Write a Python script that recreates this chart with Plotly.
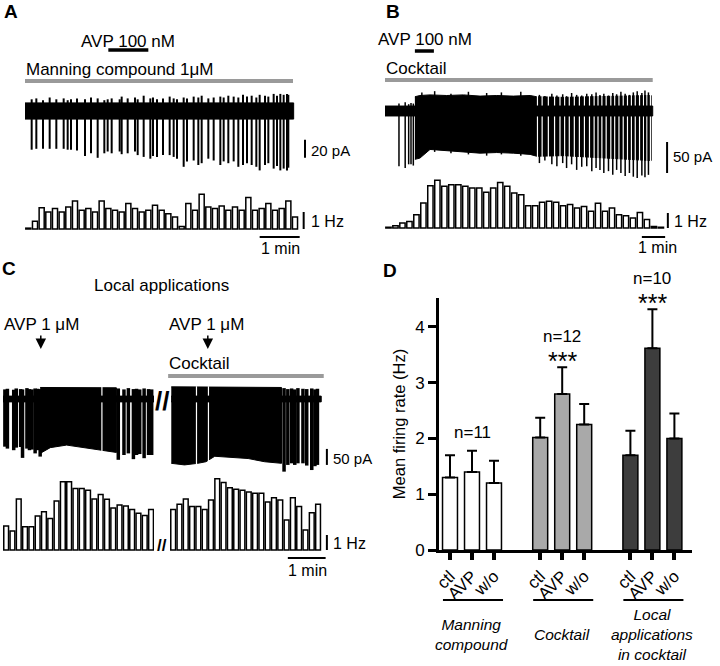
import plotly.graph_objects as go

W, H = 720, 666
FONT = "Liberation Sans, Arial, Helvetica, sans-serif"
GREY = "#9a9a9a"

# ---------------- A: Manning compound 1 uM, AVP 100 nM ----------------
a_manning = [0, 402]          # s, application bar
a_avp = [125, 185]            # s
a_rec_end = 403               # s
a_noise = 9                   # pA, half width of baseline noise band
a_spike_t = [10, 17, 27, 37, 47, 58, 64, 69, 78, 90, 99, 109, 119, 124, 130,
             142, 145, 154, 165, 169, 178, 188, 192, 198, 207, 217, 223, 228,
             238, 243, 253, 260, 265, 275, 283, 293, 298, 305, 313, 320, 327,
             333, 340, 347, 352, 360, 365, 373, 378, 383, 388, 393, 395]
a_spike_down = [-43, -42, -42, -42, -42, -42, -43, -43, -44, -50, -47, -52, -47, -45, -47,
                -45, -48, -47, -45, -49, -51, -53, -50, -51, -49, -49, -51, -53,
                -62, -56, -55, -60, -58, -53, -55, -60, -56, -58, -56, -62, -60,
                -58, -60, -62, -66, -60, -58, -64, -61, -66, -64, -66, -63]
a_spike_up = [13, 14, 12, 15, 13, 14, 12, 13, 14, 13, 15, 14, 12, 13, 14,
              13, 16, 14, 15, 13, 17, 14, 15, 13, 14, 16, 14, 13,
              15, 14, 16, 15, 17, 14, 15, 16, 15, 17, 16, 15, 18,
              16, 17, 15, 18, 17, 16, 19, 17, 19, 18, 19, 18]
a_bin = 10                    # s
a_rate = [0.05, 0.45, 1.25, 1.0, 1.2, 1.0, 1.3, 1.65, 1.1, 1.2, 1.0, 1.65, 1.2, 1.1,
          1.0, 1.5, 1.2, 1.0, 1.1, 1.4, 1.1, 0.9, 0.7, 0.15, 1.5, 1.1, 2.05, 1.3,
          1.2, 1.35, 1.1, 1.3, 1.1, 1.85, 1.1, 1.2, 1.5, 1.1, 1.2, 1.65, 0.7]

# ---------------- B: cocktail, AVP 100 nM ----------------
b_cocktail = [0, 690]
b_avp = [77, 126]
b_rec_end = 690
b_noise = 8
b_burst_t = [77, 90, 116, 159, 202, 245, 288, 331, 374, 391, 460, 546, 631, 686]
b_burst_top = [23, 25, 26, 25, 26, 24, 25, 24, 25, 23, 22, 23, 24, 25]
b_burst_bot = [-78, -76, -62, -64, -66, -68, -67, -68, -70, -73, -72, -75, -78, -80]
b_spike_t = [36, 52, 61, 67, 73, 95, 128, 170, 215, 262, 300, 350, 398, 412, 430,
             443, 458, 468, 481, 494, 507, 520, 533, 544, 554, 564, 576, 587, 597,
             608, 619, 630, 640, 650, 662, 670, 679]
b_spike_down = [-89, -92, -86, -86, -88, -70, -66, -68, -70, -72, -70, -72, -84, -80, -86,
                -89, -84, -92, -86, -95, -90, -89, -97, -92, -95, -100, -97, -103, -95,
                -100, -105, -100, -106, -108, -104, -107, -103]
b_spike_up = [12, 14, 11, 13, 12, 30, 32, 28, 31, 29, 30, 31, 26, 24, 28,
              25, 27, 24, 29, 26, 25, 28, 27, 30, 26, 28, 25, 29, 27,
              31, 28, 26, 30, 32, 29, 33, 30]
b_gaps = [393, 405, 421, 437, 451, 463, 475, 488, 501, 514, 527, 539, 549, 559,
          570, 582, 592, 603, 614, 625, 635, 645, 656, 666, 675, 684]
b_bin = 18
b_rate = [0.05, 0.15, 0.33, 0.44, 0.89, 1.67, 2.82, 3.18, 2.78, 2.89, 2.89, 2.78, 2.67,
          2.67, 2.38, 2.67, 3.04, 2.78, 2.33, 2.22, 1.49, 1.49, 1.71, 1.78, 1.71, 1.49,
          1.56, 1.33, 1.44, 1.11, 1.65, 1.11, 1.33, 0.89, 0.82, 0.67, 1.04, 0.56, 0.1, 0.05]

# ---------------- C: local applications (AVP 1 uM puff) ----------------
c_avp_puff = 60
c_cocktail = [-3, 244]
c_rec_end = 240
c_noise = 9
c1_burst_t = [59, 75, 101, 127, 154, 180]
c1_burst_top = [36, 36, 37, 36, 35, 35]
c1_burst_bot = [-170, -152, -144, -152, -160, -167]
c1_spike_t = [3, 7, 17, 21, 28, 31, 38, 42, 46, 51, 55, 59,
              183, 192, 199, 207, 212, 217, 224, 231, 236]
c1_spike_down = [-149, -155, -160, -152, -150, -184, -155, -160, -158, -170, -160, -180,
                 -190, -175, -170, -188, -175, -172, -185, -175, -175]
c1_spike_up = [30, 32, 29, 33, 31, 30, 34, 31, 30, 33, 32, 31,
               33, 30, 34, 31, 32, 30, 33, 31, 30]
c1_gaps = [157]
c2_burst_t = [2, 23, 44, 57, 71, 97, 124, 150, 177]
c2_burst_top = [38, 38, 37, 37, 38, 37, 38, 37, 36]
c2_burst_bot = [-201, -206, -201, -196, -179, -183, -186, -196, -201]
c2_spike_t = [181, 187, 193, 198, 203, 211, 217, 225, 230, 234]
c2_spike_down = [-227, -206, -201, -206, -201, -201, -208, -222, -210, -206]
c2_spike_up = [34, 31, 33, 30, 34, 32, 31, 33, 30, 32]
c2_gaps = [42, 61]
c_bin = 10
c1_rate = [1.6, 1.27, 3.4, 1.55, 1.55, 2.27, 2.55, 2.1, 3.27, 4.55, 4.55, 4.1,
           4.1, 3.98, 3.4, 3.7, 3.38, 2.8, 3.0, 2.93, 2.7, 2.45, 2.3, 2.7]
c2_rate = [2.7, 3.05, 3.4, 2.9, 2.9, 2.7, 3.33, 4.75, 4.5, 4.15, 4.05, 3.98,
           3.87, 3.78, 3.78, 3.2, 3.49, 3.33, 2.0, 3.49, 2.9, 1.33, 2.49, 3.05]

# ---------------- D: mean firing rate ----------------
d_groups = ["Manning<br>compound", "Cocktail", "Local<br>applications<br>in cocktail"]
d_conditions = ["ctl", "AVP", "w/o"]
d_mean = [[1.3, 1.4, 1.2], [2.02, 2.8, 2.25], [1.7, 3.62, 2.0]]
d_sem = [[0.4, 0.38, 0.4], [0.35, 0.48, 0.37], [0.44, 0.7, 0.45]]
d_n = [11, 12, 10]
d_sig = ["", "***", "***"]
d_colors = ["white", "#a9a9a9", "#3d3d3d"]


def px(x):
    return x / W


def py(y):
    return 1 - y / H


def ax_time(x0, x1, s_per_px, t0=0.0):
    return dict(domain=[px(x0), px(x1)], range=[t0, t0 + (x1 - x0) * s_per_px],
                visible=False, automargin=False)


def ax_val(ytop, ybot, yzero, per_px):
    return dict(domain=[py(ybot), py(ytop)],
                range=[-(ybot - yzero) * per_px, (yzero - ytop) * per_px],
                visible=False, automargin=False)


def seg(xref, yref, x0, y0, x1, y1, color="black", width=2):
    return dict(type="line", xref=xref, yref=yref, x0=x0, y0=y0, x1=x1, y1=y1,
                line=dict(color=color, width=width))


def add_recording(fig, xa, ya, t_start, t_end, noise, sp_t, sp_down, sp_up,
                  burst=None, gaps=(), width=2):
    if burst:
        bt, btop, bbot = burst
        fig.add_trace(go.Scatter(x=bt + bt[::-1], y=btop + bbot[::-1], fill="toself",
                                 fillcolor="black", mode="lines",
                                 line=dict(color="black", width=1), xaxis=xa, yaxis=ya))
    if burst and gaps:
        # short pauses in the burst show as white streaks
        gx, gy = [], []
        for g in gaps:
            gx += [g, g, None]
            gy += [max(burst[1]) + 2, min(burst[2]) - 2, None]
        fig.add_trace(go.Scatter(x=gx, y=gy, mode="lines", line=dict(color="white", width=1.2),
                                 xaxis=xa, yaxis=ya))
    xs, ys = [], []
    for t, d, u in zip(sp_t, sp_down, sp_up):
        xs += [t, t, None]
        ys += [u, d, None]
    fig.add_trace(go.Scatter(x=xs, y=ys, mode="lines", line=dict(color="black", width=width),
                             xaxis=xa, yaxis=ya))
    fig.add_trace(go.Scatter(x=[t_start, t_end, t_end, t_start], y=[-noise, -noise, noise, noise],
                             fill="toself", fillcolor="black", mode="lines",
                             line=dict(color="black", width=1), xaxis=xa, yaxis=ya))


def add_rate(fig, xa, ya, rates, binw):
    centers = [(i + 0.5) * binw for i in range(len(rates))]
    fig.add_trace(go.Bar(x=centers, y=rates, width=binw * 0.76,
                         marker=dict(color="white", line=dict(color="black", width=1.5)),
                         xaxis=xa, yaxis=ya))


fig = go.Figure()

axes = {
    1: (ax_time(25, 350, 1.5), ax_val(86, 178, 111, 1 / 0.9)),
    2: (ax_time(25, 350, 1.5), ax_val(190, 235, 229, 1 / 17)),
    3: (ax_time(385, 720, 1 / 0.388), ax_val(88, 182, 111, 1 / 0.62)),
    4: (ax_time(385, 720, 1 / 0.388), ax_val(170, 235, 228, 1 / 15)),
    5: (ax_time(3, 154, 1 / 0.63), ax_val(380, 478, 399, 1 / 0.32)),
    6: (ax_time(168, 380, 1 / 0.63, -3.2), ax_val(380, 478, 399, 1 / 0.32)),
    7: (ax_time(3, 154, 1 / 0.63), ax_val(470, 556, 550, 1 / 15)),
    8: (ax_time(168, 380, 1 / 0.63, -3.2), ax_val(470, 556, 550, 1 / 15)),
}

add_recording(fig, "x", "y", 0, a_rec_end, a_noise, a_spike_t, a_spike_down, a_spike_up, width=2)
add_rate(fig, "x2", "y2", a_rate, a_bin)
add_recording(fig, "x3", "y3", 0, b_rec_end, b_noise, b_spike_t, b_spike_down, b_spike_up,
              burst=(b_burst_t, b_burst_top, b_burst_bot), gaps=b_gaps, width=1.5)
add_rate(fig, "x4", "y4", b_rate, b_bin)
add_recording(fig, "x5", "y5", 0, c_rec_end, c_noise, c1_spike_t, c1_spike_down, c1_spike_up,
              burst=(c1_burst_t, c1_burst_top, c1_burst_bot), gaps=c1_gaps, width=3.5)
add_recording(fig, "x6", "y6", 2, c_rec_end, c_noise, c2_spike_t, c2_spike_down, c2_spike_up,
              burst=(c2_burst_t, c2_burst_top, c2_burst_bot), gaps=c2_gaps, width=3.5)
add_rate(fig, "x7", "y7", c1_rate, c_bin)
add_rate(fig, "x8", "y8", c2_rate, c_bin)

# panel D bars
GROUP_GAP = 1.1
tickvals, ticktext = [], []
annotations = []
for g in range(3):
    xs = [g * (3 + GROUP_GAP) + c for c in range(3)]
    tickvals += xs
    ticktext += d_conditions
    fig.add_trace(go.Bar(
        x=xs, y=d_mean[g], width=0.68,
        marker=dict(color=d_colors[g], line=dict(color="black", width=1.5)),
        error_y=dict(type="data", array=d_sem[g], arrayminus=[0, 0, 0], symmetric=False,
                     color="black", thickness=2, width=5),
        xaxis="x9", yaxis="y9"))
    top = d_mean[g][1] + d_sem[g][1]
    if d_sig[g]:
        annotations.append(dict(text=d_sig[g], x=xs[1], y=top, xref="x9", yref="y9",
                                yanchor="middle", yshift=6, showarrow=False,
                                font=dict(size=25, family=FONT, color="black")))
    annotations.append(dict(text=f"n={d_n[g]}", x=xs[1], y=top, xref="x9", yref="y9",
                            yanchor="middle", yshift=31 if d_sig[g] else 18, showarrow=False,
                            font=dict(size=17, family=FONT, color="black")))
    annotations.append(dict(text=f"<i>{d_groups[g]}</i>", x=xs[1], y=py(634), xref="x9",
                            yref="paper", yanchor="middle", showarrow=False,
                            font=dict(size=15.5, family=FONT, color="black")))

layout = dict(width=W, height=H, margin=dict(l=0, r=0, t=0, b=0, autoexpand=False),
              showlegend=False, paper_bgcolor="white", plot_bgcolor="rgba(0,0,0,0)",
              bargap=0.1)
for i, (xa, ya) in axes.items():
    sfx = "" if i == 1 else str(i)
    xa["anchor"] = "y" + sfx
    ya["anchor"] = "x" + sfx
    layout["xaxis" + sfx] = xa
    layout["yaxis" + sfx] = ya

layout["xaxis9"] = dict(domain=[px(439), px(692)], range=[-0.5, 11.0], anchor="y9",
                        automargin=False,
                        showline=True, linewidth=2.5, linecolor="black", mirror=False,
                        ticks="outside", ticklen=7, tickwidth=3.5, tickcolor="black",
                        tickvals=tickvals, ticktext=ticktext, tickangle=-45,
                        tickfont=dict(size=17, family=FONT, color="black"),
                        showgrid=False, zeroline=False)
layout["yaxis9"] = dict(domain=[py(550), py(298)], range=[0, 4.52], anchor="x9",
                        automargin=False,
                        showline=True, linewidth=3, linecolor="black",
                        ticks="outside", ticklen=8, tickwidth=3, tickcolor="black",
                        tickvals=[0, 1, 2, 3, 4],
                        tickfont=dict(size=17, family=FONT, color="black"),
                        title=dict(text="Mean firing rate (Hz)", standoff=6,
                                   font=dict(size=16.5, family=FONT, color="black")),
                        showgrid=False, zeroline=False)

shapes = [
    # drug applications
    seg("x", "paper", a_manning[0], py(81), a_manning[1], py(81), GREY, 4),
    seg("x", "paper", a_avp[0], py(50), a_avp[1], py(50), "black", 3.5),
    seg("x3", "paper", b_cocktail[0], py(80), b_cocktail[1], py(80), GREY, 4),
    seg("x3", "paper", b_avp[0], py(51), b_avp[1], py(51), "black", 3.5),
    seg("x6", "paper", c_cocktail[0], py(376), c_cocktail[1], py(376), GREY, 4),
    # scale bars
    seg("x", "y", 420, -52, 420, -32),
    seg("x2", "y2", 418, 0, 418, 1),
    seg("x2", "paper", 352, py(237), 412, py(237)),
    seg("x3", "y3", 727, -100, 727, -50),
    seg("x4", "y4", 729, 0, 729, 1),
    seg("x4", "paper", 662, py(237), 722, py(237)),
    seg("x6", "y6", 249, -206, 249, -156),
    seg("x8", "y8", 249, 0, 249, 1),
    seg("x8", "paper", 187, py(558), 247, py(558)),
]
# group underlines in D
for g in range(3):
    x0 = g * (3 + GROUP_GAP)
    shapes.append(seg("x9", "paper", x0 - 0.32, py(600), x0 + 2.41, py(600), "black", 2))


def label(text, x, y, size=17, anchor="center", bold=False):
    return dict(text=f"<b>{text}</b>" if bold else text, x=px(x), y=py(y), xref="paper",
                yref="paper", xanchor=anchor, yanchor="middle", showarrow=False,
                font=dict(size=size, family=FONT, color="black"))


annotations += [
    label("A", 11, 11, 19, bold=True),
    label("B", 393, 11, 19, bold=True),
    label("C", 9, 268, 19, bold=True),
    label("D", 390, 270, 19, bold=True),
    label("AVP 100 nM", 128, 41),
    label("Manning compound 1μM", 24, 70, anchor="left"),
    label("20 pA", 309, 150, 15, "left"),
    label("1 Hz", 309, 222, 16, "left"),
    label("1 min", 280, 248, 16),
    label("AVP 100 nM", 425, 40),
    label("Cocktail", 384, 68, anchor="left"),
    label("50 pA", 671, 157, 15, "left"),
    label("1 Hz", 672, 222, 16, "left"),
    label("1 min", 657, 247, 16),
    label("Local applications", 161, 285),
    label("AVP 1 μM", 41, 324),
    label("AVP 1 μM", 207, 324),
    label("Cocktail", 167, 363, anchor="left"),
    label("50 pA", 331, 458, 15, "left"),
    label("1 Hz", 331, 543, 16, "left"),
    label("1 min", 307, 570, 16),
    label("//", 162, 401, 26, bold=True),
    label("//", 162, 545, 17, bold=True),
]
for xa in ("x5", "x6"):
    annotations.append(dict(text="", x=c_avp_puff, y=py(349), xref=xa, yref="paper",
                            showarrow=True, ax=0, ay=-15, arrowhead=2, arrowsize=1.4,
                            arrowwidth=1.5, arrowcolor="black"))

layout["shapes"] = shapes
layout["annotations"] = annotations
fig.update_layout(**layout)
fig.update_traces(hoverinfo="skip")

# the page body has a default 8px margin and may scroll; pin the figure to the window corner
page_fix = ("document.documentElement.style.overflow = 'hidden';"
            "document.body.style.margin = '0';"
            "document.body.style.overflow = 'hidden';")
fig.write_html("out.html", config={"displayModeBar": False}, post_script=page_fix)
